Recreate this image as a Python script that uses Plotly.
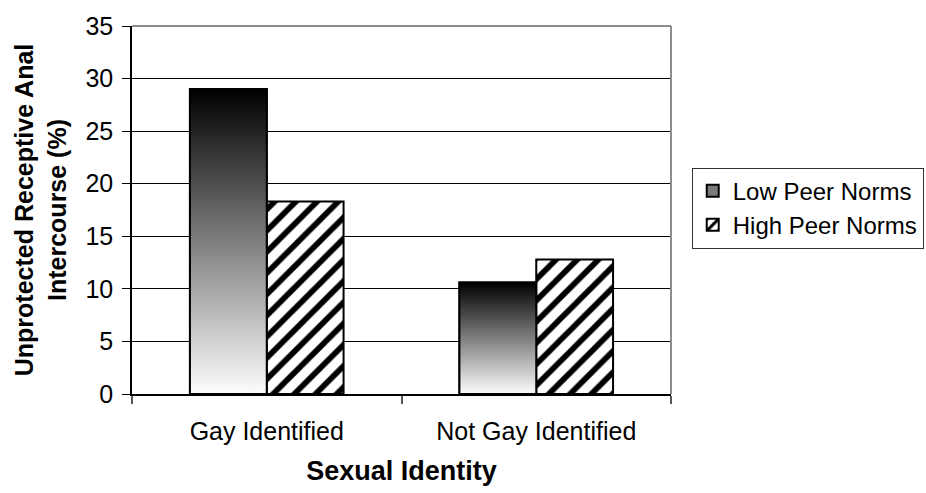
import plotly.graph_objects as go

# Share of men reporting unprotected receptive anal intercourse, by sexual identity
categories = ["Gay Identified", "Not Gay Identified"]
low_peer_norms = [29.0, 10.6]
high_peer_norms = [18.3, 12.8]
series_names = ["Low Peer Norms", "High Peer Norms"]
y_ticks = [0, 5, 10, 15, 20, 25, 30, 35]

BAR_W = 0.285
FONT = "Liberation Sans, Arial, sans-serif"
xs = list(range(len(categories)))

fig = go.Figure()

# Low peer norms: outlined bars (legend entry), shaded below with a vertical gradient
fig.add_trace(go.Bar(
    x=xs,
    y=low_peer_norms,
    width=BAR_W,
    offset=-BAR_W,
    name=series_names[0],
    marker=dict(color="#7a7a7a", line=dict(color="black", width=2)),
))
for i, v in enumerate(low_peer_norms):
    x0, x1 = i - BAR_W, i
    fig.add_trace(go.Scatter(
        x=[x0, x0, x1, x1, x0],
        y=[0, v, v, 0, 0],
        mode="lines",
        fill="toself",
        fillgradient=dict(type="vertical",
                          colorscale=[[0, "#fdfdfd"], [1, "#000000"]]),
        line=dict(color="black", width=2),
        name=series_names[0],
        showlegend=False,
        hoverinfo="skip",
    ))

# High peer norms: hatched bars
fig.add_trace(go.Bar(
    x=xs,
    y=high_peer_norms,
    width=BAR_W,
    offset=0,
    name=series_names[1],
    marker=dict(
        color="white",
        line=dict(color="black", width=2),
        pattern=dict(shape="/", size=15, solidity=0.38,
                     fgcolor="black", bgcolor="white", fillmode="replace"),
    ),
))

fig.update_layout(
    width=926, height=493,
    margin=dict(l=132, r=255, t=23, b=99),
    paper_bgcolor="white",
    plot_bgcolor="white",
    font=dict(family=FONT, size=25, color="black"),
    showlegend=True,
    legend=dict(
        xref="container", yref="container",
        x=0.747, xanchor="left", y=0.578, yanchor="middle",
        bordercolor="#333333", borderwidth=1,
        font=dict(size=24),
        traceorder="normal",
        tracegroupgap=0,
    ),
    xaxis=dict(
        range=[-0.5, 1.5],
        tickmode="array",
        tickvals=xs,
        ticktext=categories,
        ticks="",
        ticklabelstandoff=14,
        showgrid=False,
        zeroline=False,
        showline=True, linecolor="black", linewidth=1.5,
        minor=dict(tickmode="array", tickvals=[-0.5, 0.5, 1.5],
                   ticks="outside", ticklen=8, tickcolor="#555555",
                   tickwidth=1.5, showgrid=False),
        title=dict(text="<b>Sexual Identity</b>", font=dict(size=27),
                   standoff=17),
    ),
    yaxis=dict(
        range=[0, 35],
        tickmode="array",
        tickvals=y_ticks,
        ticks="outside", ticklen=8, tickcolor="black", tickwidth=1,
        ticklabelstandoff=4,
        showgrid=True, gridcolor="black", gridwidth=1,
        zeroline=False,
        showline=True, linecolor="black", linewidth=1.5,
        title=dict(text="<b>Unprotected Receptive Anal<br>Intercourse (%)</b>",
                   font=dict(size=25), standoff=12),
    ),
    shapes=[
        dict(type="line", xref="paper", yref="paper", x0=0, x1=1, y0=1, y1=1,
             line=dict(color="#8c8c8c", width=2)),
        dict(type="line", xref="paper", yref="paper", x0=1, x1=1, y0=0, y1=1,
             line=dict(color="#8c8c8c", width=2)),
    ],
)

fig.write_html("out.html")
